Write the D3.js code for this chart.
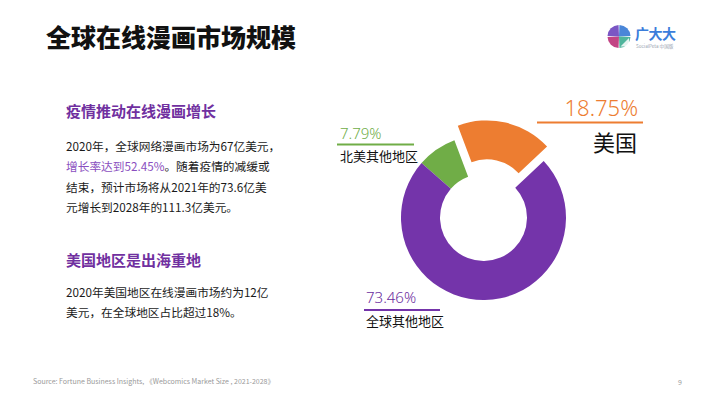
<!DOCTYPE html>
<html><head><meta charset="utf-8">
<script src="https://cdn.jsdelivr.net/npm/d3@7"></script>
<style>
html,body{margin:0;padding:0;background:#fff;}
svg{display:block;font-family:"Noto Sans CJK SC","Noto Sans",sans-serif;}
</style></head>
<body>
<svg id="c" width="710" height="399"></svg>
<script>
// ---- data ----
const categories = ["北美其他地区", "美国", "全球其他地区"];
const shares = [7.79, 18.75, 73.46];
const shareLabels = ["7.79%", "18.75%", "73.46%"];
const colors = ["#70ad47", "#ed7d31", "#7434aa"];
const explodeIndex = 1; // 美国 pulled out

const title = "全球在线漫画市场规模";
const heading1 = "疫情推动在线漫画增长";
const para1 = [
  [{t:"2020年，全球网络漫画市场为67亿美元，"}],
  [{t:"增长率达到52.45%", hl:true},{t:"。随着疫情的减缓或"}],
  [{t:"结束，预计市场将从2021年的73.6亿美"}],
  [{t:"元增长到2028年的111.3亿美元。"}]
];
const heading2 = "美国地区是出海重地";
const para2 = [
  [{t:"2020年美国地区在线漫画市场约为12亿"}],
  [{t:"美元，在全球地区占比超过18%。"}]
];
const source = "Source:  Fortune Business Insights,  《Webcomics Market Size , 2021-2028》";
const pageNo = "9";

const svg = d3.select("#c");

// title
svg.append("text").attr("x", 46).attr("y", 46.5)
  .attr("font-size", 25).attr("font-weight", 900).attr("fill", "#111")
  .text(title);

// logo
const logo = svg.append("g").attr("transform", "translate(619,36.5)");
const logoCols = ["#4a86d8", "#4fb59c", "#c24484", "#7a56c4"];
const larc = d3.arc().innerRadius(0).outerRadius(11.5).padAngle(0.08);
d3.pie().sort(null)([1,1,1,1]).forEach((d,i)=>{
  logo.append("path").attr("d", larc(d)).attr("fill", logoCols[i]);
});
logo.append("path").attr("d","M1.5,10 L10,1.5 L10,10 Z").attr("fill","#fff").attr("opacity",0.85);
svg.append("text").attr("x", 635).attr("y", 39).attr("font-size", 14)
  .attr("font-weight", 700).attr("fill", "#3b7ddb").attr("letter-spacing", -0.5).text("广大大");
svg.append("text").attr("x", 636).attr("y", 47.5).attr("font-size", 4.6)
  .attr("fill", "#9aa3b0").text("SocialPeta 中国版");

// left text
const purple = "#7030a0";
svg.append("text").attr("x", 66).attr("y", 116.5).attr("font-size", 15)
  .attr("font-weight", 700).attr("fill", purple).text(heading1);
function para(lines, y0, step){
  lines.forEach((segs,i)=>{
    const t = svg.append("text").attr("x", 66).attr("y", y0 + i*step)
      .attr("font-size", 11.7).attr("fill", "#1a1a1a");
    segs.forEach(s=>t.append("tspan").attr("fill", s.hl ? "#8a4fc0" : "#1a1a1a").text(s.t));
  });
}
para(para1, 150.5, 20.5);
svg.append("text").attr("x", 66).attr("y", 265.5).attr("font-size", 15)
  .attr("font-weight", 700).attr("fill", purple).text(heading2);
para(para2, 296.5, 20.5);

// donut
const cx = 483.5, cy = 217.5, R = 82.5, r = 43.5;
const start = -48.7 * Math.PI/180;
const pie = d3.pie().sort(null).startAngle(start).endAngle(start + 2*Math.PI);
const arc = d3.arc().innerRadius(r).outerRadius(R);
const g = svg.append("g").attr("transform", `translate(${cx},${cy})`);
const arcs = pie(shares);
g.selectAll("path").data(arcs).join("path")
  .attr("d", arc)
  .attr("fill", (d,i)=>colors[i])
  .attr("transform", (d,i)=>{
    if(i!==explodeIndex) return null;
    const a = (d.startAngle + d.endAngle)/2, off = 15;
    return `translate(${off*Math.sin(a)},${-off*Math.cos(a)})`;
  });

// labels
const labelSpec = [
  {x:340, y:139, line:[337,414,144.5], anchor:"start", ps:15, cx:340, cy:161, cs:13, ca:"start"},
  {x:638, y:115.5, line:[537,643,122.5], anchor:"end", ps:22, cx:615, cy:151, cs:22, ca:"middle"},
  {x:366, y:303, line:[364,440,310], anchor:"start", ps:15, cx:366, cy:326, cs:13, ca:"start"}
];
labelSpec.forEach((s,i)=>{
  svg.append("text").attr("x", s.x).attr("y", s.y).attr("text-anchor", s.anchor)
    .attr("font-size", s.ps).attr("font-family", "'Noto Sans','Noto Sans CJK SC',sans-serif")
    .attr("font-weight", 300).attr("fill", i===2 ? "#6a2c9e" : colors[i]).text(shareLabels[i]);
  svg.append("line").attr("x1", s.line[0]).attr("x2", s.line[1])
    .attr("y1", s.line[2]).attr("y2", s.line[2])
    .attr("stroke", colors[i]).attr("stroke-width", 2);
  svg.append("text").attr("x", s.cx).attr("y", s.cy).attr("text-anchor", s.ca)
    .attr("font-size", s.cs).attr("fill", "#111").text(categories[i]);
});

// footer
svg.append("text").attr("x", 33).attr("y", 383.5).attr("font-size", 7)
  .attr("fill", "#999").text(source);
svg.append("text").attr("x", 678).attr("y", 385).attr("font-size", 7)
  .attr("fill", "#999").text(pageNo);
</script>
</body></html>
